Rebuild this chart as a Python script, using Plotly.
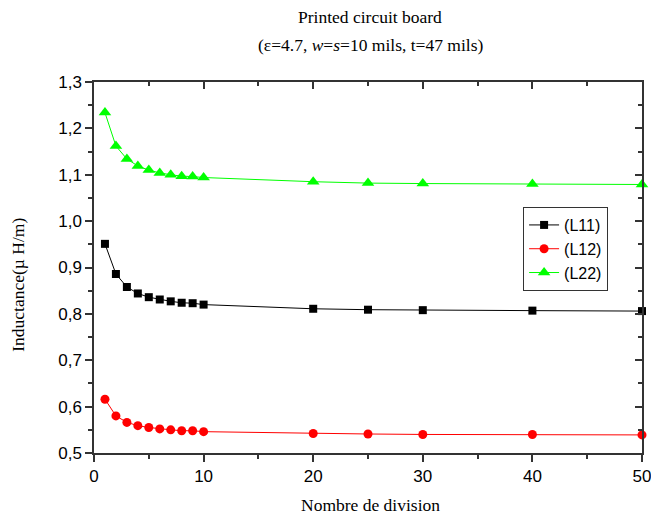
import plotly.graph_objects as go

divisions = [1, 2, 3, 4, 5, 6, 7, 8, 9, 10, 20, 25, 30, 40, 50]
L11 = [0.951, 0.886, 0.858, 0.844, 0.836, 0.831, 0.827, 0.824, 0.823, 0.820, 0.811, 0.809, 0.808, 0.807, 0.806]
L12 = [0.616, 0.580, 0.566, 0.559, 0.555, 0.552, 0.550, 0.548, 0.548, 0.546, 0.542, 0.541, 0.540, 0.540, 0.539]
L22 = [1.234, 1.162, 1.134, 1.119, 1.110, 1.104, 1.100, 1.097, 1.096, 1.094, 1.085, 1.082, 1.081, 1.080, 1.079]

x_ticks = [0, 10, 20, 30, 40, 50]
x_minor = [5, 15, 25, 35, 45]

series = [
    ("(L11)", L11, "black", "square", 8),
    ("(L12)", L12, "red", "circle", 9),
    ("(L22)", L22, "#00ff00", "triangle-up", 11),
]

fig = go.Figure()
for name, vals, col, sym, sz in series:
    fig.add_trace(go.Scatter(
        x=divisions, y=vals, name=name, mode="lines+markers",
        line=dict(color=col, width=1),
        marker=dict(symbol=sym, size=sz, color=col, line=dict(width=0)),
        cliponaxis=False,
    ))

# invisible trace for mirrored (inside-tick) axes
fig.add_trace(go.Scatter(x=[0], y=[0.5], xaxis="x2", yaxis="y2",
                         mode="markers", marker=dict(opacity=0),
                         showlegend=False, hoverinfo="skip"))

axis_common = dict(showgrid=False, zeroline=False, showline=True, automargin=False,
                   linecolor="#333333", linewidth=1.5, ticklen=7,
                   tickcolor="#333333", tickwidth=1.5)
minor_out = dict(ticks="outside", ticklen=4, tickcolor="#333333", tickwidth=1.5)
minor_in = dict(ticks="inside", ticklen=4, tickcolor="#333333", tickwidth=1.5)

serif = "Liberation Serif, Times New Roman"

fig.update_layout(
    width=651, height=518,
    margin=dict(l=94, r=9, t=82, b=65, autoexpand=False),
    paper_bgcolor="white", plot_bgcolor="white",
    separators=",.",
    font=dict(family="Liberation Sans, Arial", color="black"),
    xaxis=dict(
        range=[0, 50], tickmode="array", tickvals=x_ticks,
        ticks="outside", tickfont=dict(size=17), ticklabeloverflow="allow",
        minor=dict(tickvals=x_minor, **minor_out),
        **axis_common,
    ),
    yaxis=dict(
        range=[0.5, 1.3], dtick=0.1, tick0=0.5, tickformat=".1f",
        ticks="outside", tickfont=dict(size=17), ticklabeloverflow="allow",
        minor=dict(dtick=0.05, **minor_out),
        **axis_common,
    ),
    xaxis2=dict(
        overlaying="x", side="top", range=[0, 50],
        tickvals=x_ticks, ticks="inside", showticklabels=False,
        minor=dict(tickvals=x_minor, **minor_in),
        **axis_common,
    ),
    yaxis2=dict(
        overlaying="y", side="right", range=[0.5, 1.3], dtick=0.1, tick0=0.5,
        ticks="inside", showticklabels=False,
        minor=dict(dtick=0.05, **minor_in),
        **axis_common,
    ),
    legend=dict(
        x=0.783, y=0.663, xanchor="left", yanchor="top",
        bordercolor="#333333", borderwidth=1, bgcolor="white",
        font=dict(family="Liberation Sans, Arial", size=16),
        tracegroupgap=0,
    ),
    annotations=[
        dict(text="Printed circuit board", xref="paper", yref="paper",
             x=0.504, y=1.175, xanchor="center", yanchor="middle",
             showarrow=False, font=dict(family=serif, size=17.5)),
        dict(text="(ε=4.7, <i>w</i>=<i>s</i>=10 mils, t=47 mils)", xref="paper", yref="paper",
             x=0.504, y=1.0997, xanchor="center", yanchor="middle",
             showarrow=False, font=dict(family=serif, size=17.5)),
        dict(text="Nombre de division", xref="paper", yref="paper",
             x=0.504, y=-0.140, xanchor="center", yanchor="middle",
             showarrow=False, font=dict(family=serif, size=17.5)),
        dict(text="Inductance(µ H/m)", xref="paper", yref="paper",
             x=-0.139, y=0.453, xanchor="center", yanchor="middle", textangle=-90,
             showarrow=False, font=dict(family=serif, size=17.5)),
    ],
)

fig.write_html("out.html",
               config={"displayModeBar": False},
               post_script="document.body.style.margin='0';document.body.style.overflow='hidden';")
